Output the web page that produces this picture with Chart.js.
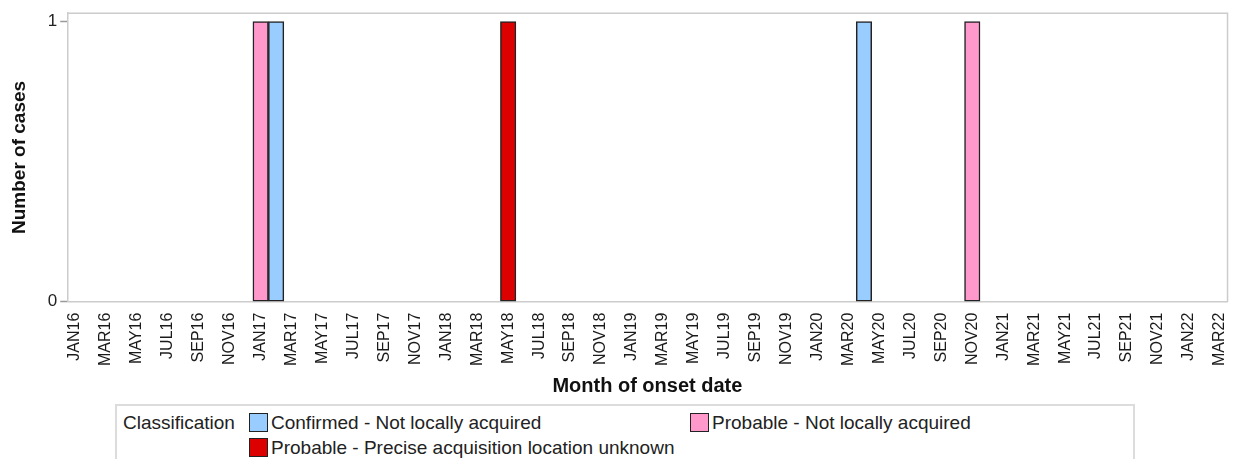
<!DOCTYPE html>
<html>
<head>
<meta charset="utf-8">
<script src="https://cdn.jsdelivr.net/npm/chart.js@4"></script>
<style>
  body { margin: 0; background: #fff; font-family: "Liberation Sans", Arial, sans-serif; }
  #wrap { position: relative; width: 1233px; height: 459px; overflow: hidden; }
  #chartBox { position: absolute; left: 0; top: 0; width: 1242px; height: 402px; }
  #legend {
    position: absolute; left: 115px; top: 404px; width: 1020px; height: 70px;
    border: 2px solid #dcdcdc; box-sizing: border-box; font-size: 19px; color: #222;
  }
  .lg-title { position: absolute; left: 6px; top: 6px; }
  .lg-item { position: absolute; white-space: nowrap; }
  .lg-item span.sw {
    display: inline-block; width: 17px; height: 17px; border: 1px solid #222;
    vertical-align: -3px; margin-right: 3px;
  }
</style>
</head>
<body>
<div id="wrap">
  <div id="chartBox"><canvas id="grafica"></canvas></div>
  <div id="legend"></div>
</div>
<script>
// Meses (eje x)
const meses = [
  'JAN16','FEB16','MAR16','APR16','MAY16','JUN16','JUL16','AUG16','SEP16','OCT16','NOV16','DEC16',
  'JAN17','FEB17','MAR17','APR17','MAY17','JUN17','JUL17','AUG17','SEP17','OCT17','NOV17','DEC17',
  'JAN18','FEB18','MAR18','APR18','MAY18','JUN18','JUL18','AUG18','SEP18','OCT18','NOV18','DEC18',
  'JAN19','FEB19','MAR19','APR19','MAY19','JUN19','JUL19','AUG19','SEP19','OCT19','NOV19','DEC19',
  'JAN20','FEB20','MAR20','APR20','MAY20','JUN20','JUL20','AUG20','SEP20','OCT20','NOV20','DEC20',
  'JAN21','FEB21','MAR21','APR21','MAY21','JUN21','JUL21','AUG21','SEP21','OCT21','NOV21','DEC21',
  'JAN22','FEB22','MAR22'
];

// Casos por clasificacion
const confirmadoNoLocal = [{ x: 'FEB17', y: 1 }, { x: 'APR20', y: 1 }];
const probableNoLocal = [{ x: 'JAN17', y: 1 }, { x: 'NOV20', y: 1 }];
const probableDesconocido = [{ x: 'MAY18', y: 1 }];

const yTicks = [0, 1];

const series = [
  { label: 'Confirmed - Not locally acquired', data: confirmadoNoLocal, color: '#99ccff' },
  { label: 'Probable - Not locally acquired', data: probableNoLocal, color: '#ff99cc' },
  { label: 'Probable - Precise acquisition location unknown', data: probableDesconocido, color: '#dd0000' }
];

// Marco gris alrededor del area de la grafica
const marco = {
  id: 'marco',
  afterDraw(chart) {
    const a = chart.chartArea, c = chart.ctx;
    c.save();
    c.strokeStyle = '#cccccc';
    c.lineWidth = 1.5;
    c.beginPath();
    c.moveTo(a.left, a.top);
    c.lineTo(a.right, a.top);
    c.lineTo(a.right, a.bottom);
    c.stroke();
    c.restore();
  }
};

new Chart(document.getElementById('grafica'), {
  type: 'bar',
  data: {
    labels: meses,
    datasets: series.map(s => ({
      label: s.label,
      data: s.data,
      backgroundColor: s.color,
      borderColor: '#222222',
      borderWidth: 1.5,
      borderSkipped: false,
      barPercentage: 1,
      categoryPercentage: 1
    }))
  },
  options: {
    responsive: true,
    maintainAspectRatio: false,
    animation: false,
    layout: { padding: { top: 12, right: 0, left: 8, bottom: 4 } },
    plugins: { legend: { display: false }, tooltip: { enabled: false } },
    scales: {
      x: {
        stacked: true,
        grid: { display: false },
        border: { color: '#cccccc', width: 1.5 },
        ticks: {
          autoSkip: false,
          maxRotation: 90,
          minRotation: 90,
          padding: 3,
          color: '#1a1a1a',
          font: { family: 'Liberation Sans', size: 16 },
          callback: (v, i) => (i % 2 === 0 ? meses[i] : '')
        },
        title: {
          display: true,
          text: 'Month of onset date',
          color: '#111',
          font: { family: 'Liberation Sans', size: 20, weight: 'bold' },
          padding: { top: 5, bottom: 0 }
        }
      },
      y: {
        stacked: true,
        min: 0,
        max: 1.03,
        afterBuildTicks: scale => { scale.ticks = yTicks.map(v => ({ value: v })); },
        grid: { drawOnChartArea: false, tickLength: 7, color: '#999', tickWidth: 1.5 },
        border: { color: '#cccccc', width: 1.5 },
        ticks: {
          padding: 3,
          color: '#222',
          font: { family: 'Liberation Sans', size: 17 }
        },
        title: {
          display: true,
          text: 'Number of cases',
          color: '#111',
          font: { family: 'Liberation Sans', size: 19, weight: 'bold' },
          padding: { top: 0, bottom: 14 }
        }
      }
    }
  },
  plugins: [marco]
});

// Leyenda
const leg = document.getElementById('legend');
leg.innerHTML = '<div class="lg-title">Classification</div>';
const pos = [[132, 6], [573, 6], [132, 31]];
series.forEach((s, i) => {
  const d = document.createElement('div');
  d.className = 'lg-item';
  d.style.left = pos[i][0] + 'px';
  d.style.top = pos[i][1] + 'px';
  d.innerHTML = '<span class="sw" style="background:' + s.color + '"></span>' + s.label;
  leg.appendChild(d);
});
</script>
</body>
</html>
